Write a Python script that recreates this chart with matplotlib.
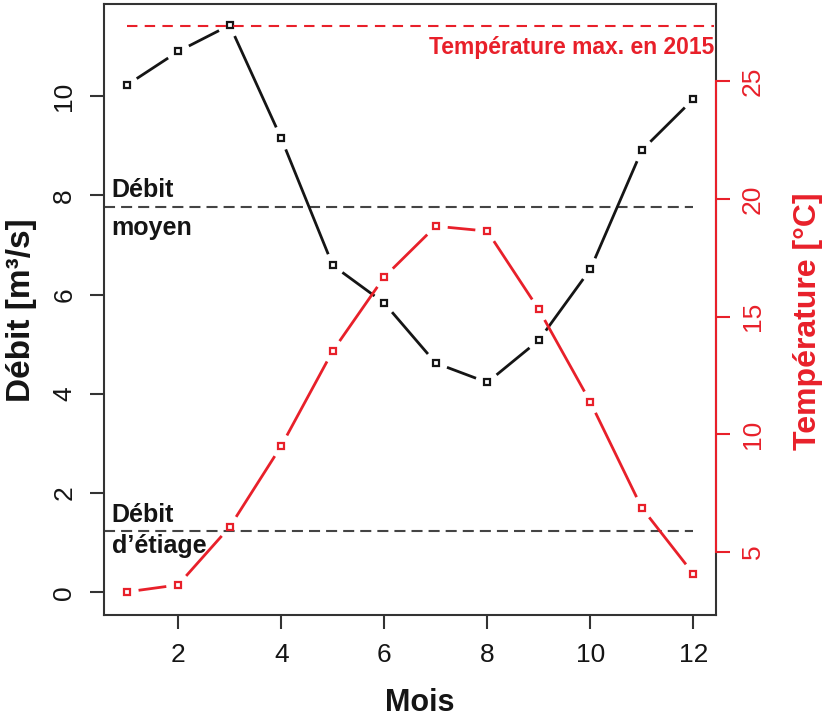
import numpy as np
import matplotlib
matplotlib.use('Agg')
import matplotlib.pyplot as plt

plt.rcParams['font.family'] = ['Liberation Sans', 'DejaVu Sans']

# Valeurs
mois = [1, 2, 3, 4, 5, 6, 7, 8, 9, 10, 11, 12]
debit = [10.22, 10.9, 11.43, 9.15, 6.59, 5.83, 4.62, 4.23, 5.08, 6.51, 8.91, 9.94]
temperature = [3.30, 3.6, 6.06, 9.5, 13.54, 16.68, 18.84, 18.63, 15.3, 11.37, 6.87, 4.07]
debit_moyen = 7.76
debit_etiage = 1.23
temp_max_2015 = 27.35

ticks_mois = [2, 4, 6, 8, 10, 12]
ticks_debit = [0, 2, 4, 6, 8, 10]
ticks_temp = [5, 10, 15, 20, 25]

ROUGE = '#e8202a'
NOIR = '#151515'
GRIS = '#333333'


def trace_type_b(ax, x, y, color, gap=12):
    # lignes interrompues autour des points, comme type="b" de R
    fig.canvas.draw()
    pts = ax.transData.transform(np.column_stack([x, y]))
    inv = ax.transData.inverted()
    for p0, p1 in zip(pts[:-1], pts[1:]):
        d = p1 - p0
        L = np.hypot(*d)
        if L <= 2 * gap:
            continue
        u = d / L
        seg = inv.transform([p0 + u * gap, p1 - u * gap])
        ax.plot(seg[:, 0], seg[:, 1], color=color, lw=2, solid_capstyle='butt')
    ax.plot(x, y, ls='none', marker='s', ms=5, mfc='none', mec=color, mew=1.6)


fig = plt.figure(figsize=(8.28, 7.21), dpi=100)
ax = fig.add_axes([104 / 828, 1 - 615 / 721, 612 / 828, 611 / 721])
ax.set_xlim(0.56, 12.44)
ax.set_ylim(-0.456, 11.856)
ax2 = ax.twinx()
ax2.set_ylim(2.32, 28.28)

for s in ax.spines.values():
    s.set_color(GRIS)
    s.set_linewidth(1.5)
for side in ['left', 'top', 'bottom']:
    ax2.spines[side].set_visible(False)
ax2.spines['right'].set_color(ROUGE)
ax2.spines['right'].set_linewidth(1.5)
ax2.spines['right'].set_bounds(5, 25)

ax.set_xticks(ticks_mois)
ax.set_yticks(ticks_debit)
ax2.set_yticks(ticks_temp)
ax.tick_params(axis='both', length=10, width=1.5, color=GRIS, labelsize=19, pad=10, labelcolor=NOIR)
ax.tick_params(axis='y', labelrotation=90)
for lab in ax.get_yticklabels():
    lab.set_va('center')
ax2.tick_params(axis='y', length=10, width=1.5, color=ROUGE, labelsize=19, pad=8,
                labelcolor=ROUGE, labelrotation=90)
for lab in ax2.get_yticklabels():
    lab.set_va('center')

# lignes de référence
ax.plot([0.56, 12], [debit_moyen, debit_moyen], color='#444444', lw=1.5, ls=(0, (5.3, 2.9)))
ax.plot([0.56, 12], [debit_etiage, debit_etiage], color='#444444', lw=1.5, ls=(0, (5.3, 2.9)))
ax2.plot([1, 12.4], [temp_max_2015, temp_max_2015], color=ROUGE, lw=1.5, ls=(0, (5, 3.5)))

trace_type_b(ax, mois, debit, NOIR)
trace_type_b(ax2, mois, temperature, ROUGE)

ax.text(0.71, 7.96, 'Débit', fontsize=18, fontweight='bold', color=NOIR, va='baseline')
ax.text(0.71, 7.2, 'moyen', fontsize=18, fontweight='bold', color=NOIR, va='baseline')
ax.text(0.71, 1.41, 'Débit', fontsize=18, fontweight='bold', color=NOIR, va='baseline')
ax.text(0.71, 0.79, 'd\u2019étiage', fontsize=18, fontweight='bold', color=NOIR, va='baseline')
ax.text(12.4, 10.85, 'Température max. en 2015', fontsize=16.5, fontweight='bold',
        color=ROUGE, ha='right', va='baseline')

fig.text(22 / 828, 1 - 310 / 721, 'Débit [m³/s]', rotation=90, fontsize=24,
         fontweight='bold', color=NOIR, ha='center', va='center')
fig.text(808 / 828, 1 - 321 / 721, 'Température [°C]', rotation=90, fontsize=23,
         fontweight='bold', color=ROUGE, ha='center', va='center')
fig.text(420 / 828, 1 - 703 / 721, 'Mois', fontsize=22, fontweight='bold',
         color=NOIR, ha='center', va='center')

fig.savefig('out.png', dpi=100)
